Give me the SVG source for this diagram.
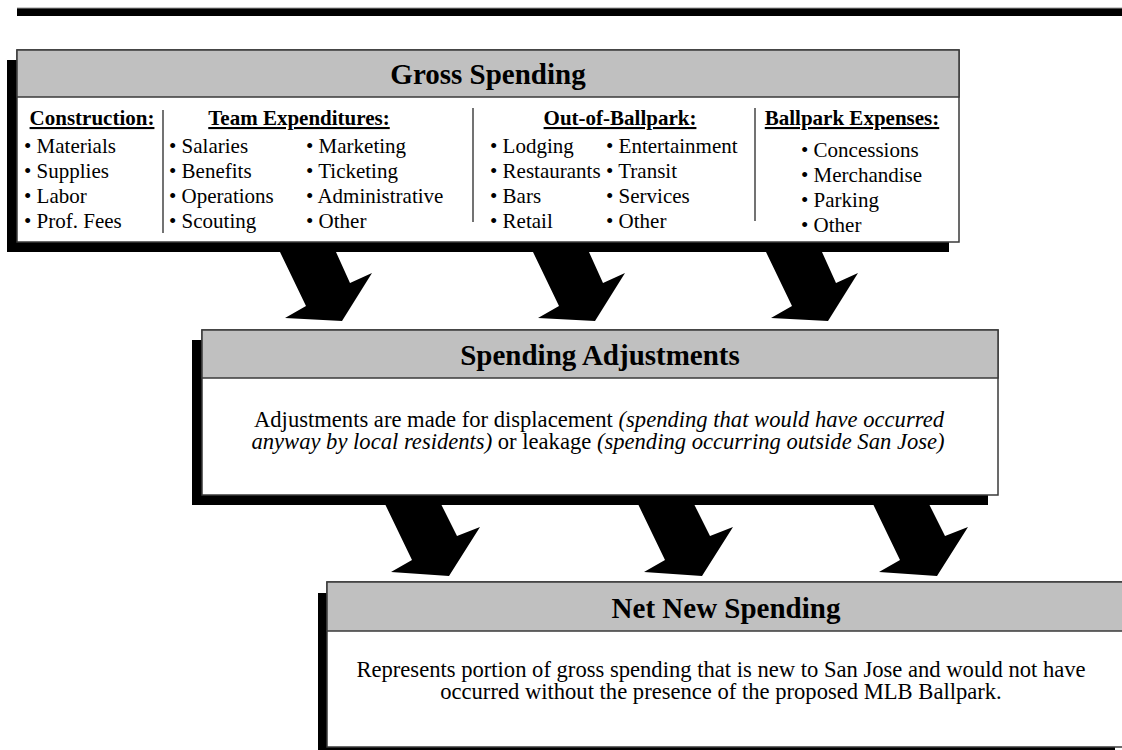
<svg xmlns="http://www.w3.org/2000/svg" width="1122" height="750" viewBox="0 0 1122 750">
<style>
.shadow{fill:#000}
.box{fill:#fff;stroke:#3a3a3a;stroke-width:1.5}
.hdr{fill:#c0c0c0;stroke:#3a3a3a;stroke-width:1.5}
.title{font-family:"Liberation Serif","Times New Roman",serif;font-weight:bold;font-size:29px;fill:#000;text-anchor:middle}
.sub{font-family:"Liberation Serif","Times New Roman",serif;font-weight:bold;font-size:21px;fill:#000;text-anchor:middle;text-decoration:underline}
.t{font-family:"Liberation Serif","Times New Roman",serif;font-size:21px;fill:#000}
.b{font-family:"Liberation Serif","Times New Roman",serif;font-size:22.6px;fill:#000;text-anchor:middle}
.i{font-style:italic}
.div{stroke:#444;stroke-width:1.5}
.arrow{fill:#000}
</style>
<defs>
<path id="arr1" d="M0,0 L56,0 L70,31 L92,21 L62,69 L5,66 L26,54 Z"/>
<path id="arr2" d="M0,0 L56,0 L72,32 L95,23 L64,72 L6,68 L27,56 Z"/>
</defs>
<rect x="17" y="8" width="1105" height="8" fill="#000"/>
<line x1="17" y1="8" x2="1122" y2="8" stroke="#999" stroke-width="1"/>
<g id="connectors">
<use href="#arr1" class="arrow" x="280" y="252"/>
<use href="#arr1" class="arrow" x="533" y="252"/>
<use href="#arr1" class="arrow" x="766" y="252"/>
<use href="#arr2" class="arrow" x="385" y="504"/>
<use href="#arr2" class="arrow" x="638" y="504"/>
<use href="#arr2" class="arrow" x="873" y="504"/>
</g>
<g id="gross">
<rect class="shadow" x="7" y="60" width="942" height="192"/>
<rect class="box" x="17" y="50" width="942" height="192"/>
<rect class="hdr" x="17" y="50" width="942" height="47"/>
<text class="title" x="488" y="84">Gross Spending</text>
<text class="sub" x="92" y="125">Construction:</text>
<text class="t" x="24" y="153">• Materials</text>
<text class="t" x="24" y="178">• Supplies</text>
<text class="t" x="24" y="203">• Labor</text>
<text class="t" x="24" y="228">• Prof. Fees</text>
<line class="div" x1="163" y1="110" x2="163" y2="233"/>
<text class="sub" x="299" y="125">Team Expenditures:</text>
<text class="t" x="169" y="153">• Salaries</text>
<text class="t" x="169" y="178">• Benefits</text>
<text class="t" x="169" y="203">• Operations</text>
<text class="t" x="169" y="228">• Scouting</text>
<text class="t" x="306" y="153">• Marketing</text>
<text class="t" x="306" y="178">• Ticketing</text>
<text class="t" x="306" y="203">• Administrative</text>
<text class="t" x="306" y="228">• Other</text>
<line class="div" x1="473" y1="108" x2="473" y2="222"/>
<text class="sub" x="620" y="125">Out-of-Ballpark:</text>
<text class="t" x="490" y="153">• Lodging</text>
<text class="t" x="490" y="178">• Restaurants</text>
<text class="t" x="490" y="203">• Bars</text>
<text class="t" x="490" y="228">• Retail</text>
<text class="t" x="606" y="153">• Entertainment</text>
<text class="t" x="606" y="178">• Transit</text>
<text class="t" x="606" y="203">• Services</text>
<text class="t" x="606" y="228">• Other</text>
<line class="div" x1="755" y1="108" x2="755" y2="221"/>
<text class="sub" x="852" y="125">Ballpark Expenses:</text>
<text class="t" x="801" y="157">• Concessions</text>
<text class="t" x="801" y="182">• Merchandise</text>
<text class="t" x="801" y="207">• Parking</text>
<text class="t" x="801" y="232">• Other</text>
</g>
<g id="adjust">
<rect class="shadow" x="192" y="340" width="796" height="165"/>
<rect class="box" x="202" y="330" width="796" height="165"/>
<rect class="hdr" x="202" y="330" width="796" height="48"/>
<text class="title" x="600" y="365">Spending Adjustments</text>
<text class="b" x="599" y="427">Adjustments are made for displacement <tspan class="i">(spending that would have occurred</tspan></text>
<text class="b" x="598" y="449"><tspan class="i">anyway by local residents)</tspan> or leakage <tspan class="i">(spending occurring outside San Jose)</tspan></text>
</g>
<g id="netnew">
<rect class="shadow" x="318" y="593" width="797" height="165"/>
<rect class="box" x="327" y="582" width="797" height="165"/>
<rect class="hdr" x="327" y="582" width="797" height="49"/>
<text class="title" x="726" y="618">Net New Spending</text>
<text class="b" x="721" y="677">Represents portion of gross spending that is new to San Jose and would not have</text>
<text class="b" x="721" y="699">occurred without the presence of the proposed MLB Ballpark.</text>
</g>
</svg>
